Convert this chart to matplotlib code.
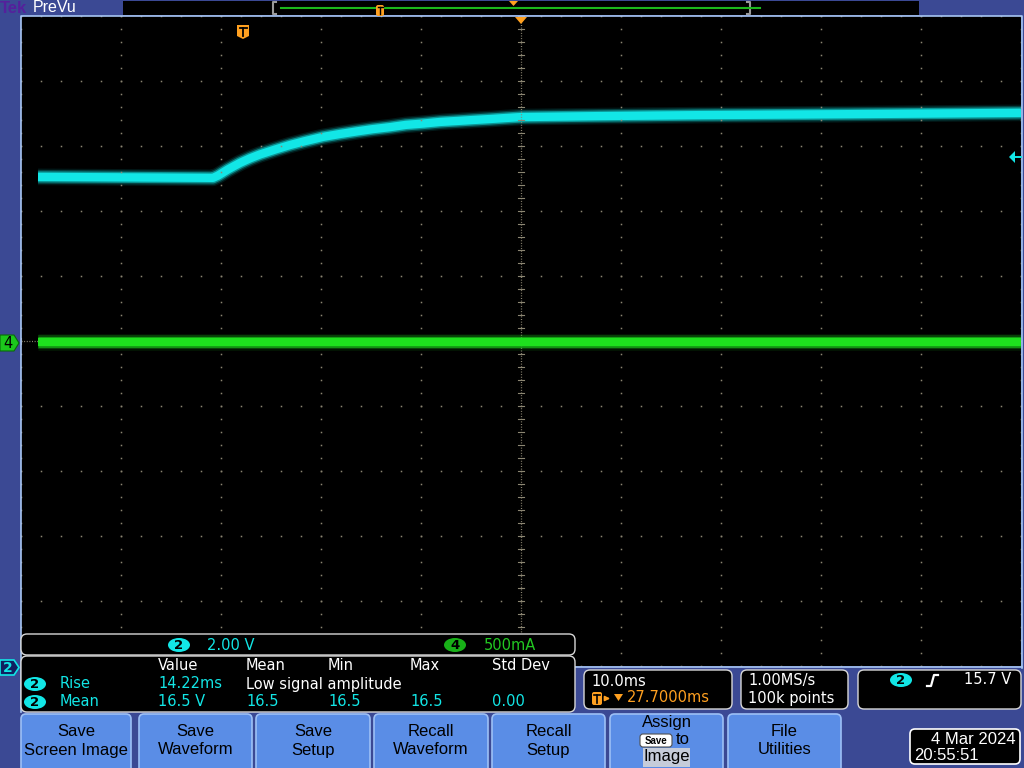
import matplotlib
matplotlib.use("Agg")
import matplotlib.pyplot as plt
import numpy as np
from matplotlib.patches import FancyBboxPatch, Polygon, Rectangle, Ellipse
from matplotlib import font_manager

ch2_time_ms = [-20.6, -3.1, -2.6, -1.6, -0.4, 0.6, 1.6, 3.1, 4.6, 6.1, 7.9, 9.6,
               11.3, 12.9, 14.6, 16.2, 17.9, 19.6, 21.3, 22.9, 24.6, 26.1, 27.7,
               35.6, 45.6, 60.6, 77.7]
ch2_volts = [15.05, 15.02, 15.09, 15.28, 15.48, 15.62, 15.74, 15.89, 16.03, 16.15,
             16.28, 16.37, 16.45, 16.52, 16.58, 16.65, 16.69, 16.74, 16.77, 16.80,
             16.83, 16.86, 16.89, 16.92, 16.95, 16.98, 17.02]
ch4_time_ms = [-20.6, 77.7]
ch4_amps = [-0.01, -0.01]

ch2_scale_v = 2.00          # V/div
ch4_scale_a = 0.500         # A/div
time_per_div_ms = 10.0
trigger_delay_ms = 27.7
trigger_level_v = 15.7
ch2_offset_div = -5         # ground marker at bottom of screen
ch4_offset_div = 0

meas_headers = ["Value", "Mean", "Min", "Max", "Std Dev"]
meas_rise = ["14.22ms", "Low signal amplitude"]
meas_mean = ["16.5 V", "16.5", "16.5", "16.5", "0.00"]
button_labels = ["Save\nScreen Image", "Save\nWaveform", "Save\nSetup",
                 "Recall\nWaveform", "Recall\nSetup", "Assign", "File\nUtilities"]

# ---------------- styling ----------------
BG = "#3B4994"
EDGE = "#A8C6F4"
CYAN = "#12E6E6"
GREEN = "#1EE01E"
ORANGE = "#FFA020"
GRID = "#8C8672"
BTN = "#5A8DE6"
BTN_EDGE = "#9DC0F6"

avail = {f.name for f in font_manager.fontManager.ttflist}
if "Liberation Sans Narrow" in avail:
    NARROW = "Liberation Sans Narrow"
    NFS = 13
elif "Liberation Sans" in avail:
    NARROW = "Liberation Sans"
    NFS = 12
else:
    NARROW = "DejaVu Sans"
    NFS = 11
MAIN = "DejaVu Sans"

W, H = 1024, 768
fig = plt.figure(figsize=(W / 100, H / 100), dpi=100)
fig.patch.set_facecolor(BG)

bg = fig.add_axes([0, 0, 1, 1], zorder=0)
bg.set_xlim(0, W); bg.set_ylim(H, 0); bg.set_axis_off()
bg.add_patch(Rectangle((21, 16), 1000, 650, facecolor="black", edgecolor="none"))

# ---------------- waveform axes ----------------
L, T, R, B = 21, 16, 1021, 666
ax = fig.add_axes([L / W, (H - B) / H, (R - L) / W, (B - T) / H], zorder=1)
ax.set_axis_off()
x0 = trigger_delay_ms - 5 * time_per_div_ms
x1 = trigger_delay_ms + 5 * time_per_div_ms
ax.set_xlim(x0, x1)
ax.set_ylim((-5 - ch2_offset_div) * ch2_scale_v, (5 - ch2_offset_div) * ch2_scale_v)
ax2 = ax.twinx()
ax2.set_axis_off()
ax2.set_ylim((-5 - ch4_offset_div) * ch4_scale_a, (5 - ch4_offset_div) * ch4_scale_a)

# traces (noise band drawn as layered glow)
for lw, a in [(12, 0.10), (10, 0.22), (8, 0.5), (6, 1.0)]:
    ax.plot(ch2_time_ms, ch2_volts, color=CYAN, lw=lw, alpha=a,
            solid_capstyle="butt", solid_joinstyle="round", zorder=2)
    ax2.plot(ch4_time_ms, ch4_amps, color=GREEN, lw=lw, alpha=a,
             solid_capstyle="butt", zorder=2)

# graticule on top
y_lo, y_hi = ax.get_ylim()
ydiv = ch2_scale_v
xc, yc = trigger_delay_ms, (y_lo + y_hi) / 2
gx, gy = [], []
for j in range(11):
    yy = y_lo + j * ydiv
    if abs(yy - yc) < 1e-6:
        continue
    for k in range(51):
        gx.append(x0 + k * time_per_div_ms / 5); gy.append(yy)
for j in range(11):
    xx = x0 + j * time_per_div_ms
    if abs(xx - xc) < 1e-6:
        continue
    for k in range(51):
        gx.append(xx); gy.append(y_lo + k * ydiv / 5)
ax.plot(gx, gy, ls="none", marker="s", ms=1.1, mew=0, color=GRID, zorder=5)
ax.axvline(xc, color=GRID, lw=0.9, dashes=(0.8, 1.3), zorder=5)
ax.axhline(yc, color=GRID, lw=0.9, dashes=(0.8, 1.3), zorder=5)
tx, ty = [], []
for k in range(51):
    v = y_lo + k * ydiv / 5
    tx += [xc - 0.3, xc + 0.3, np.nan]; ty += [v, v, np.nan]
    t = x0 + k * time_per_div_ms / 5
    tx += [t, t, np.nan]; ty += [yc - 0.09, yc + 0.09, np.nan]
ax.plot(tx, ty, color=GRID, lw=0.8, zorder=5)

# ---------------- overlay (screen furniture) ----------------
ov = fig.add_axes([0, 0, 1, 1], zorder=5)
ov.set_xlim(0, W); ov.set_ylim(H, 0); ov.set_axis_off()
ov.patch.set_visible(False)

def rbox(x, y, w, h, fc="black", ec="#D8D8D8", r=6, lw=1.0, z=2):
    ov.add_patch(FancyBboxPatch((x, y), w, h, boxstyle=f"round,pad=0,rounding_size={r}",
                                facecolor=fc, edgecolor=ec, lw=lw, zorder=z))

def txt(x, y, s, c="white", fs=10.5, ha="left", fam=MAIN, **kw):
    ov.text(x, y, s, color=c, fontsize=fs, ha=ha, va="center", family=fam, zorder=6, **kw)

def badge(x, y, n, fc, w=22, h=14):
    ov.add_patch(Ellipse((x, y), w, h, facecolor=fc, edgecolor="none", zorder=5))
    txt(x, y + 0.5, n, c="black", fs=9.5, ha="center", fontweight="bold")

# screen border
ov.plot([20.5, 20.5, 1021.5, 1021.5], [712, 16, 16, 668], color=EDGE, lw=1.2, zorder=1)
ov.plot([575, 1021.5], [667, 667], color=EDGE, lw=1.2, zorder=1)

# top bar
ov.text(0, 8.5, "Tek", color="#55209C", fontsize=12, ha="left", va="center",
        family=NARROW, fontweight="bold", zorder=6)
txt(33, 8, "PreVu", c="white", fs=11.5, fam=NARROW)
ov.add_patch(Rectangle((123, 1), 796, 14, facecolor="black", edgecolor="none", zorder=2))
ov.plot([276, 273, 273, 276], [2, 2, 14, 14], color="#9A9A9A", lw=1.5, zorder=3)
ov.plot([747, 750, 750, 747], [2, 2, 14, 14], color="#9A9A9A", lw=1.5, zorder=3)
ov.plot([281, 760], [8, 8], color="#1CB81C", lw=1.5, zorder=3)
rbox(376, 5, 8, 11, fc=ORANGE, ec="none", r=2, z=4)
ov.plot([377.5, 382.5], [7, 7], color="black", lw=1, zorder=5)
ov.plot([380, 380], [7, 14], color="black", lw=1, zorder=5)
ov.add_patch(Polygon([(509, 1), (518, 1), (513.5, 6)], closed=True, fc=ORANGE, ec="none", zorder=4))

# trigger markers
ov.add_patch(Polygon([(515, 17), (527, 17), (521, 24)], closed=True, fc=ORANGE, ec="none", zorder=4))
ov.add_patch(Polygon([(237, 25), (249, 25), (249, 36), (243, 39), (237, 36)], closed=True,
                     fc=ORANGE, ec="none", zorder=4))
ov.plot([239.5, 246.5], [28, 28], color="black", lw=1.3, zorder=5)
ov.plot([243, 243], [28, 35.5], color="black", lw=1.3, zorder=5)

# trigger level arrow (right)
ov.add_patch(Polygon([(1009, 157), (1015, 151), (1015, 163)], closed=True, fc=CYAN, ec="none", zorder=4))
ov.plot([1014, 1021], [157, 157], color=CYAN, lw=1.4, zorder=4)

# channel ground markers (left)
ov.add_patch(Polygon([(0, 335), (14, 335), (19, 343), (14, 351), (0, 351)], closed=True,
                     fc="#1CC81C", ec="#0A6A0A", lw=0.8, zorder=4))
txt(8, 343.5, "4", c="black", fs=10.5, ha="center")
ov.add_patch(Polygon([(0, 660), (14, 660), (19, 667.5), (14, 675), (0, 675)], closed=True,
                     fc="#102060", ec=CYAN, lw=1.2, zorder=4))
txt(8, 668, "2", c=CYAN, fs=10, ha="center", fontweight="bold")

# channel scale box
rbox(21, 634, 554, 21)
badge(179, 645, "2", CYAN)
txt(207, 645, f"{ch2_scale_v:.2f} V", c=CYAN)
badge(455, 645, "4", "#18B018")
txt(484, 645, f"{ch4_scale_a * 1000:.0f}mA", c="#22C822")

# measurement box
rbox(21, 656, 554, 56)
hx = [158, 246, 328, 410, 492]
for x, s in zip(hx, meas_headers):
    txt(x, 666, s)
badge(35, 684, "2", CYAN)
txt(60, 684, "Rise", c=CYAN)
txt(158, 684, meas_rise[0], c=CYAN)
txt(246, 684, meas_rise[1])
badge(35, 702, "2", CYAN)
txt(60, 702, "Mean", c=CYAN)
for x, s in zip(hx, meas_mean):
    txt(x, 702, s, c=CYAN)

# horizontal / acquisition / trigger boxes
rbox(584, 670, 148, 39)
txt(591, 681, f"{time_per_div_ms:.1f}ms")
rbox(592, 692, 10, 13, fc=ORANGE, ec="none", r=2, z=3)
ov.plot([594, 600], [695, 695], color="black", lw=1.2, zorder=5)
ov.plot([597, 597], [695, 703], color="black", lw=1.2, zorder=5)
ov.annotate("", xy=(613, 698.5), xytext=(603, 698.5),
            arrowprops=dict(arrowstyle="-|>", color=ORANGE, lw=1.2, mutation_scale=7), zorder=5)
ov.add_patch(Polygon([(614, 694), (623, 694), (618.5, 701)], closed=True, fc=ORANGE, ec="none", zorder=5))
txt(627, 698, f"{trigger_delay_ms:.4f}ms", c=ORANGE)

rbox(741, 670, 107, 39)
txt(748, 681, "1.00MS/s")
txt(748, 698, "100k points")

rbox(858, 670, 163, 39)
badge(901, 680, "2", CYAN)
ov.plot([927, 931, 934, 938], [686, 686, 675, 675], color="white", lw=1.6, zorder=5)
txt(1011, 680, f"{trigger_level_v:.1f} V", ha="right")

# soft-key buttons
bx = [(21, 131), (139, 252), (256, 370), (374, 488), (492, 605), (610, 723), (728, 841)]
for (a, b), lab in zip(bx, button_labels):
    rbox(a, 714, b - a, 60, fc=BTN, ec=BTN_EDGE, r=5, lw=1.2, z=2)
    cx = (a + b) / 2
    if lab == "Assign":
        txt(cx, 723, "Assign", c="black", fs=NFS, ha="center", fam=NARROW)
        rbox(640, 734, 32, 13, fc="white", ec="#505050", r=3, lw=0.8, z=4)
        txt(656, 740.5, "Save", c="black", fs=7, ha="center", fam=NARROW, fontweight="bold")
        txt(676, 740, "to", c="black", fs=NFS, fam=NARROW)
        ov.add_patch(Rectangle((643, 748), 47, 19, facecolor="#C6CCDA", edgecolor="none", zorder=4))
        txt(cx, 757, "Image", c="black", fs=NFS, ha="center", fam=NARROW)
    else:
        l1, l2 = lab.split("\n")
        txt(cx, 732, l1, c="black", fs=NFS, ha="center", fam=NARROW)
        txt(cx, 750, l2, c="black", fs=NFS, ha="center", fam=NARROW)

# date box
rbox(910, 729, 110, 35, ec="white", r=5, lw=1.2)
txt(1016, 740, "4 Mar 2024", fs=NFS, ha="right", fam=NARROW)
txt(914, 755, "20:55:51", fs=NFS, fam=NARROW)

fig.savefig("out.png", dpi=100, facecolor=BG)
